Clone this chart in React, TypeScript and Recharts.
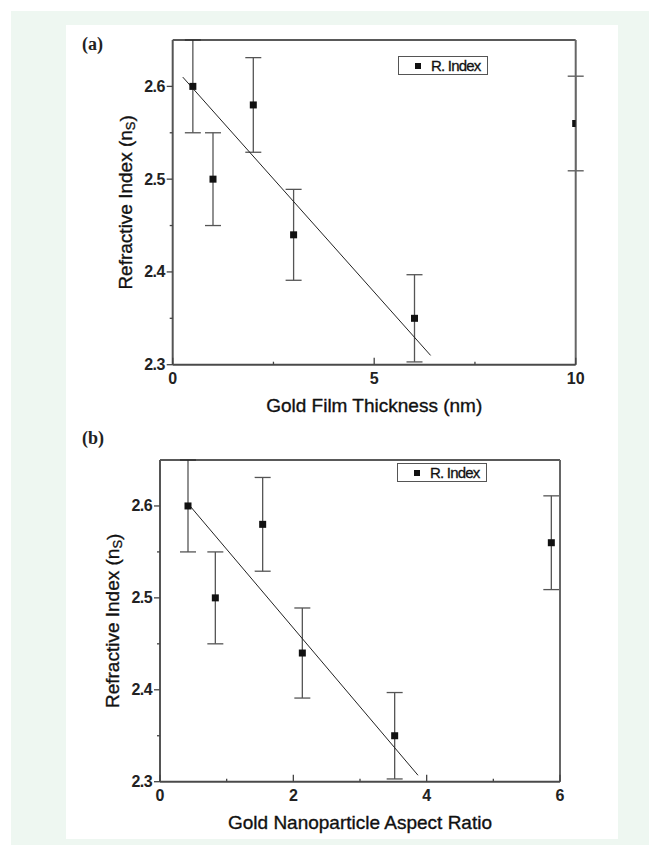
import { ScatterChart, Scatter, XAxis, YAxis, ErrorBar, Legend, Label, ReferenceLine } from "recharts";

// values
const thicknessNm = [0.5, 1, 2, 3, 6, 10];
const aspectRatio = [0.42, 0.83, 1.54, 2.135, 3.52, 5.87];
const refIndex = [2.6, 2.5, 2.58, 2.44, 2.35, 2.56];
const refIndexErr = [0.05, 0.05, 0.051, 0.049, 0.047, 0.051];

// end points of the linear fits
const fitThicknessX = [0.25, 6.4];
const fitThicknessY = [2.61, 2.31];
const fitAspectX = [0.45, 3.87];
const fitAspectY = [2.6, 2.307];

const yTicksMajor = [2.3, 2.4, 2.5, 2.6];
const yTicksMinor = [2.35, 2.45, 2.55];
const yDomain = [2.3, 2.65];
const thicknessTicksMajor = [0, 5, 10];
const thicknessTicksMinor = [2.5, 7.5];
const aspectTicksMajor = [0, 2, 4, 6];
const aspectTicksMinor = [1, 3, 5];

const SANS = "'Liberation Sans', Arial, sans-serif";
const SERIF = "'Liberation Serif', 'Times New Roman', serif";

interface PanelProps {
  tag: string;
  xs: number[];
  fitX: number[];
  fitY: number[];
  xMajor: number[];
  xMinor: number[];
  xTitle: string;
  top: number;
  height: number;
  margin: { top: number; right: number; bottom: number; left: number };
  legendPos: { left: number; top: number };
  tagPos: { left: number; top: number };
}

function Panel(p: PanelProps) {
  const points = p.xs.map((x, i) => ({ x, y: refIndex[i], err: refIndexErr[i] }));
  const fit = p.fitX.map((x, i) => ({ x, y: p.fitY[i] }));
  const xTicks = [...p.xMajor, ...p.xMinor].sort((a, b) => a - b);
  const yTicks = [...yTicksMajor, ...yTicksMinor].sort((a, b) => a - b);
  const xDomain = [p.xMajor[0], p.xMajor[p.xMajor.length - 1]];

  const xTick = (props: any) => {
    const { x, y, payload } = props;
    const major = p.xMajor.includes(payload.value);
    return (
      <g>
        <line x1={x} x2={x} y1={y} y2={y - (major ? 7 : 3)} stroke="#444" strokeWidth={1.3} />
        {major && (
          <text x={x} y={y + 14} textAnchor="middle" dominantBaseline="central"
            fontFamily={SANS} fontWeight="bold" fontSize={16} fill="#222">
            {payload.value}
          </text>
        )}
      </g>
    );
  };

  const yTick = (props: any) => {
    const { x, y, payload } = props;
    const major = yTicksMajor.includes(payload.value);
    return (
      <g>
        <line x1={x} x2={x - (major ? 6 : 3)} y1={y} y2={y} stroke="#444" strokeWidth={1.3} />
        {major && (
          <text x={x - 8} y={y} textAnchor="end" dominantBaseline="central"
            fontFamily={SANS} fontWeight="bold" fontSize={16} letterSpacing={-0.6} fill="#222">
            {payload.value.toFixed(1)}
          </text>
        )}
      </g>
    );
  };

  const legend = (props: any) => {
    const items = (props.payload || []).filter((e: any) => e.type !== "none");
    return (
      <div>
        {items.map((e: any) => (
          <div key={e.value} style={{
            border: "1px solid #555", width: 88, height: 17, display: "flex",
            alignItems: "center", background: "#fff", fontFamily: SANS, fontSize: 15,
            color: "#111", letterSpacing: -0.8, WebkitTextStroke: "0.3px #111",
          }}>
            <span style={{ display: "inline-block", width: 6, height: 6, background: "#111", marginLeft: 16, marginRight: 10 }} />
            <span>{e.value}</span>
          </div>
        ))}
      </div>
    );
  };

  return (
    <div style={{ position: "absolute", left: 0, top: p.top }}>
      <div style={{
        position: "absolute", left: p.tagPos.left, top: p.tagPos.top, fontFamily: SERIF,
        fontWeight: "bold", fontSize: 18, color: "#222", lineHeight: "20px",
      }}>{p.tag}</div>
      <ScatterChart width={660} height={p.height} margin={p.margin}>
        <XAxis dataKey="x" type="number" domain={xDomain} ticks={xTicks} interval={0}
          allowDataOverflow tickSize={0} tickMargin={0} tickLine={false} height={40}
          axisLine={{ stroke: "#4a4a4a", strokeWidth: 2 }} tick={xTick}>
          <Label content={(lp: any) => {
            const vb = lp.viewBox;
            return (
              <text x={vb.x + vb.width / 2} y={vb.y + 41} textAnchor="middle" dominantBaseline="central"
                fontFamily={SANS} fontSize={19} fill="#111" stroke="#111" strokeWidth={0.35}>{p.xTitle}</text>
            );
          }} />
        </XAxis>
        <YAxis dataKey="y" type="number" domain={yDomain} ticks={yTicks} interval={0}
          allowDataOverflow tickSize={0} tickMargin={0} tickLine={false} width={60}
          axisLine={{ stroke: "#555", strokeWidth: 2 }} tick={yTick}>
          <Label content={(lp: any) => {
            const vb = lp.viewBox;
            const cx = vb.x + vb.width - 47;
            const cy = vb.y + vb.height / 2;
            return (
              <text x={cx} y={cy} transform={`rotate(-90 ${cx} ${cy})`} textAnchor="middle"
                dominantBaseline="central" fontFamily={SANS} fontSize={19} fill="#111"
                stroke="#111" strokeWidth={0.35}>
                Refractive Index (n<tspan dy={4} fontSize={13}>S</tspan><tspan dy={-4}>)</tspan>
              </text>
            );
          }} />
        </YAxis>
        <Legend layout="horizontal" verticalAlign="middle" align="center" content={legend}
          wrapperStyle={{ position: "absolute", left: p.legendPos.left, top: p.legendPos.top, width: "auto", height: "auto" }} />
        <Scatter name="fit" data={fit} legendType="none" isAnimationActive={false}
          line={{ stroke: "#222", strokeWidth: 1 }} shape={() => <g />} />
        <Scatter name="R. Index" data={points} fill="#111" isAnimationActive={false}
          shape={(s: any) => <rect x={s.cx - 3.5} y={s.cy - 3.5} width={7} height={7} fill="#111" />}>
          <ErrorBar dataKey="err" direction="y" width={8} stroke="#555" strokeWidth={1.3} isAnimationActive={false} />
        </Scatter>
        {/* frame: top and right edges */}
        <ReferenceLine y={yDomain[1]} stroke="#222" strokeWidth={1.5} />
        <ReferenceLine x={xDomain[1]} stroke="#666" strokeWidth={2} />
      </ScatterChart>
    </div>
  );
}

export default function App() {
  return (
    <div style={{ position: "absolute", left: 0, top: 0, width: 660, height: 845, background: "#fff", overflow: "hidden" }}>
      <div style={{ position: "absolute", left: 11, top: 11, width: 638, height: 834, background: "#eef7f1" }} />
      <div style={{ position: "absolute", left: 66, top: 25, width: 552, height: 814, background: "#fff" }} />
      <Panel tag="(a)" xs={thicknessNm} fitX={fitThicknessX} fitY={fitThicknessY}
        xMajor={thicknessTicksMajor} xMinor={thicknessTicksMinor} xTitle="Gold Film Thickness (nm)"
        top={0} height={420} margin={{ top: 40, right: 84.3, bottom: 15.3, left: 112.7 }}
        legendPos={{ left: 398, top: 56 }} tagPos={{ left: 82, top: 34 }} />
      <Panel tag="(b)" xs={aspectRatio} fitX={fitAspectX} fitY={fitAspectY}
        xMajor={aspectTicksMajor} xMinor={aspectTicksMinor} xTitle="Gold Nanoparticle Aspect Ratio"
        top={420} height={425} margin={{ top: 40, right: 100, bottom: 23.3, left: 100 }}
        legendPos={{ left: 397, top: 43 }} tagPos={{ left: 82, top: 8 }} />
    </div>
  );
}
